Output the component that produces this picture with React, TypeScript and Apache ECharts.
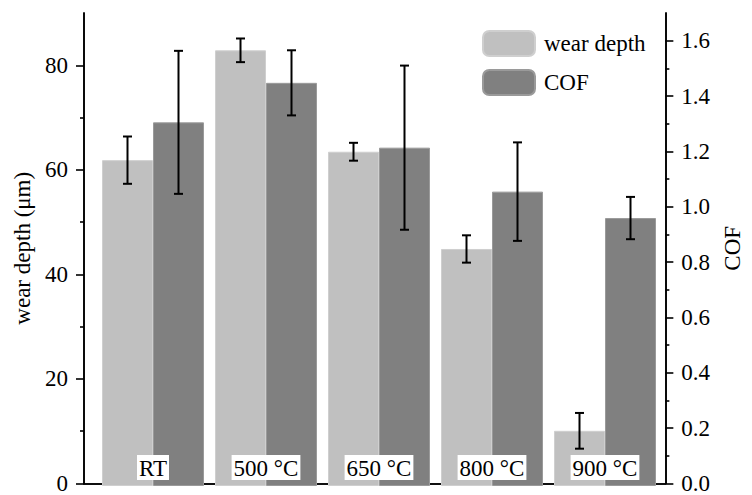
import React, { useEffect, useRef } from "react";
import * as echarts from "echarts";

const categories = ["RT", "500 °C", "650 °C", "800 °C", "900 °C"];
const wearDepth = [62.0, 82.9, 63.6, 45.1, 10.5];
const wearDepthErr = [4.5, 2.25, 1.7, 2.6, 3.4];
const cof = [1.307, 1.449, 1.216, 1.058, 0.963];
const cofErr = [0.257, 0.117, 0.295, 0.177, 0.076];

const leftTicks = [0, 20, 40, 60, 80];
const leftMinorTicks = [10, 30, 50, 70];
const rightTicks = [0, 0.2, 0.4, 0.6, 0.8, 1.0, 1.2, 1.4, 1.6];
const rightMinorTicks = [0.1, 0.3, 0.5, 0.7, 0.9, 1.1, 1.3, 1.5];

const FONT = "'Liberation Serif', 'Times New Roman', serif";
const BAR_WIDTH = 51;
const LIGHT = "#c0c0c0";
const DARK = "#808080";

function errorSeries(name: string, values: number[], errs: number[], yAxisIndex: number, side: number) {
  return {
    name,
    type: "custom",
    xAxisIndex: 2,
    yAxisIndex,
    z: 5,
    encode: { x: 0, y: [1, 2] },
    data: values.map((v, i) => [i, v - errs[i], v + errs[i]]),
    renderItem: (params: any, api: any) => {
      const i = api.value(0);
      const lo = api.coord([i, api.value(1)]);
      const hi = api.coord([i, api.value(2)]);
      const x = lo[0] + side * BAR_WIDTH / 2;
      const cap = 4.5;
      const style = { stroke: "#000", lineWidth: 2 };
      return {
        type: "group",
        children: [
          { type: "line", shape: { x1: x, y1: hi[1], x2: x, y2: lo[1] }, style },
          { type: "line", shape: { x1: x - cap, y1: hi[1], x2: x + cap, y2: hi[1] }, style },
          { type: "line", shape: { x1: x - cap, y1: lo[1], x2: x + cap, y2: lo[1] }, style },
        ],
      };
    },
  };
}

export default function App() {
  const ref = useRef<HTMLDivElement>(null);
  useEffect(() => {
    if (!ref.current) return;
    const chart = echarts.init(ref.current, undefined, { renderer: "svg" });
    const axisLine = { show: true, lineStyle: { color: "#000", width: 1.6 } };
    const labelStyle = { fontFamily: FONT, fontSize: 23, color: "#000" };
    chart.setOption({
      animation: false,
      backgroundColor: "#fff",
      textStyle: { fontFamily: FONT },
      grid: [
        { left: 84, right: 80, top: 13, bottom: 9 },
        { left: 96.5, right: 90.5, top: 13, bottom: 9 },
      ],
      legend: {
        orient: "vertical",
        left: 477,
        top: 25,
        itemWidth: 52,
        itemHeight: 25,
        itemGap: 12,
        data: ["wear depth", "COF"],
        textStyle: { fontFamily: FONT, fontSize: 23, color: "#000", padding: [0, 0, 0, 4] },
      },
      xAxis: [
        { gridIndex: 0, type: "value", min: 0, max: 1, position: "bottom", axisLine, axisTick: { show: false }, axisLabel: { show: false }, splitLine: { show: false } },
        { gridIndex: 0, type: "value", min: 0, max: 1, position: "top", axisLine, axisTick: { show: false }, axisLabel: { show: false }, splitLine: { show: false } },
        {
          gridIndex: 1,
          type: "category",
          data: categories,
          z: 10,
          axisLine: { show: false },
          axisTick: { show: false },
          axisLabel: {
            inside: true,
            margin: 6,
            ...labelStyle,
            backgroundColor: "#fff",
            padding: [2, 2, 0, 2],
            lineHeight: 23,
          },
        },
      ],
      yAxis: [
        {
          gridIndex: 0, type: "value", position: "left", min: 0, max: 90,
          axisLine, splitLine: { show: false },
          axisTick: { show: true, customValues: leftTicks, length: 8, lineStyle: { color: "#000", width: 1.6 } },
          axisLabel: { customValues: leftTicks, margin: 16, ...labelStyle },
          name: "wear depth (μm)", nameLocation: "middle", nameGap: 44,
          nameTextStyle: { ...labelStyle },
        },
        {
          gridIndex: 0, type: "value", position: "left", min: 0, max: 90,
          axisLine, splitLine: { show: false },
          axisTick: { show: true, customValues: leftMinorTicks, length: 4, lineStyle: { color: "#000", width: 1.6 } },
          axisLabel: { show: false },
        },
        {
          gridIndex: 0, type: "value", position: "right", min: 0, max: 1.7,
          axisLine, splitLine: { show: false },
          axisTick: { show: true, customValues: rightTicks, length: 8, lineStyle: { color: "#000", width: 1.6 } },
          axisLabel: { customValues: rightTicks, margin: 16, ...labelStyle, formatter: (v: number) => v.toFixed(1) },
          name: "COF", nameLocation: "middle", nameGap: 54, nameRotate: 90,
          nameTextStyle: { ...labelStyle },
        },
        {
          gridIndex: 0, type: "value", position: "right", min: 0, max: 1.7,
          axisLine, splitLine: { show: false },
          axisTick: { show: true, customValues: rightMinorTicks, length: 4, lineStyle: { color: "#000", width: 1.6 } },
          axisLabel: { show: false },
        },
        { gridIndex: 1, type: "value", min: 0, max: 90, show: false },
        { gridIndex: 1, type: "value", min: 0, max: 1.7, show: false },
      ],
      series: [
        {
          name: "wear depth", type: "bar", xAxisIndex: 2, yAxisIndex: 4,
          barWidth: BAR_WIDTH, barGap: "0%", data: wearDepth,
          itemStyle: { color: LIGHT, borderColor: "#cfcfcf", borderWidth: 1 },
        },
        {
          name: "COF", type: "bar", xAxisIndex: 2, yAxisIndex: 5,
          barWidth: BAR_WIDTH, barGap: "0%", data: cof,
          itemStyle: { color: DARK, borderColor: "#9a9a9a", borderWidth: 1 },
        },
        errorSeries("wear depth err", wearDepth, wearDepthErr, 4, -1),
        errorSeries("COF err", cof, cofErr, 5, 1),
      ],
    });
    return () => chart.dispose();
  }, []);
  return <div ref={ref} style={{ position: "fixed", left: 0, top: 0, width: 752, height: 495 }} />;
}
